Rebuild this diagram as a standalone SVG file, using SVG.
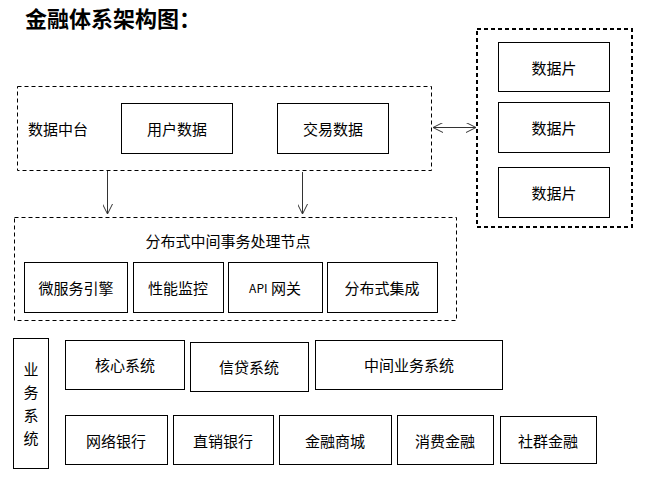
<svg xmlns="http://www.w3.org/2000/svg" width="645" height="481" viewBox="0 0 645 481">
<style>
text{font-family:"Noto Sans CJK SC","Liberation Sans",sans-serif;font-size:15px;fill:#000;text-anchor:middle;dominant-baseline:central}
.box{fill:#fff;stroke:#000;stroke-width:1}
.dash{fill:none;stroke:#000;stroke-width:1;stroke-dasharray:4 3}
.dash2{fill:none;stroke:#000;stroke-width:2;stroke-dasharray:4 3}
.conn{stroke:#333;stroke-width:1;fill:none}
</style>
<defs>
<marker id="ah" viewBox="0 0 10 10" refX="10" refY="5" markerWidth="10" markerHeight="10" markerUnits="userSpaceOnUse" orient="auto-start-reverse">
<path d="M0,0 L10,5 L0,10" fill="none" stroke="#333" stroke-width="1"/>
</marker>
</defs>
<rect width="645" height="481" fill="#fff"/>
<text x="25" y="17" style="font-size:22px;font-weight:bold;text-anchor:start">金融体系架构图：</text>

<g id="data-platform">
<rect class="dash" x="17.5" y="86.5" width="414" height="84"/>
<text x="28" y="128" style="text-anchor:start">数据中台</text>
</g>
<g id="user-data"><rect class="box" x="121.5" y="103.5" width="111" height="50"/><text x="177" y="128">用户数据</text></g>
<g id="trade-data"><rect class="box" x="277.5" y="103.5" width="111" height="50"/><text x="333" y="128">交易数据</text></g>

<g id="shards">
<rect class="dash2" x="477" y="29" width="155" height="198"/>
</g>
<g id="shard1"><rect class="box" x="498.5" y="42.5" width="111" height="49"/><text x="554" y="67">数据片</text></g>
<g id="shard2"><rect class="box" x="498.5" y="102.5" width="111" height="50"/><text x="554" y="127">数据片</text></g>
<g id="shard3"><rect class="box" x="498.5" y="167.5" width="111" height="50"/><text x="554" y="192">数据片</text></g>

<g id="dist-node">
<rect class="dash" x="14.5" y="217.5" width="442" height="103"/>
<text x="228" y="240">分布式中间事务处理节点</text>
</g>
<g id="micro"><rect class="box" x="24.5" y="262.5" width="103" height="50"/><text x="76" y="287">微服务引擎</text></g>
<g id="perf"><rect class="box" x="133.5" y="262.5" width="90" height="50"/><text x="178" y="287">性能监控</text></g>
<g id="api"><rect class="box" x="228.5" y="262.5" width="94" height="50"/><text x="275" y="287"><tspan style="font-size:12px">API</tspan> 网关</text></g>
<g id="integ"><rect class="box" x="327.5" y="262.5" width="110" height="50"/><text x="382" y="287">分布式集成</text></g>

<g id="biz">
<rect class="box" x="13.5" y="338.5" width="35" height="130"/>
<text x="31" y="368">业</text><text x="31" y="391">务</text><text x="31" y="414">系</text><text x="31" y="437">统</text>
</g>
<g id="core"><rect class="box" x="65.5" y="340.5" width="119" height="49"/><text x="125" y="364">核心系统</text></g>
<g id="credit"><rect class="box" x="190.5" y="342.5" width="118" height="49"/><text x="249" y="366">信贷系统</text></g>
<g id="middle"><rect class="box" x="315.5" y="340.5" width="187" height="49"/><text x="409" y="364">中间业务系统</text></g>
<g id="netbank"><rect class="box" x="65.5" y="415.5" width="102" height="49"/><text x="116" y="440">网络银行</text></g>
<g id="direct"><rect class="box" x="173.5" y="415.5" width="100" height="49"/><text x="223" y="440">直销银行</text></g>
<g id="mall"><rect class="box" x="279.5" y="415.5" width="112" height="49"/><text x="335" y="440">金融商城</text></g>
<g id="consumer"><rect class="box" x="397.5" y="415.5" width="96" height="49"/><text x="445" y="440">消费金融</text></g>
<g id="social"><rect class="box" x="500.5" y="416.5" width="96" height="47"/><text x="548" y="440">社群金融</text></g>

<g id="connectors">
<line class="conn" x1="107.5" y1="171" x2="107.5" y2="214" marker-end="url(#ah)"/>
<line class="conn" x1="302.5" y1="172" x2="302.5" y2="214" marker-end="url(#ah)"/>
<line class="conn" x1="433" y1="127.5" x2="476" y2="127.5" marker-start="url(#ah)" marker-end="url(#ah)"/>
</g>
</svg>
